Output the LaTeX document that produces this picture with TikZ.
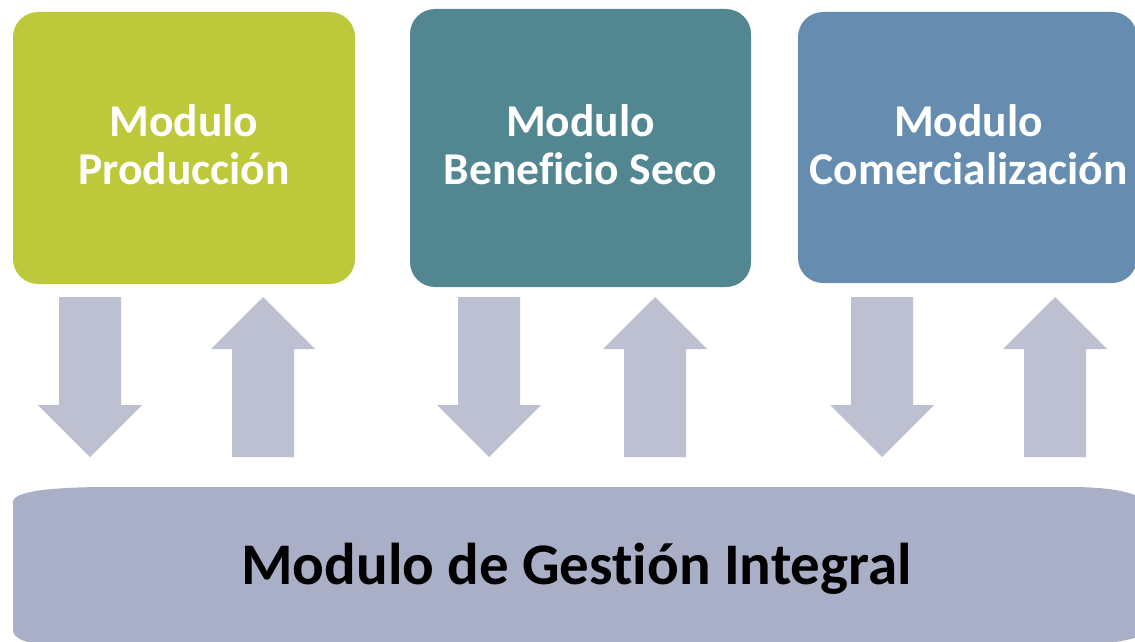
\documentclass[tikz,border=0pt]{standalone}
\usepackage{xcolor}
\usepackage{fontspec}
\setmainfont{Carlito}[Ligatures=NoCommon]
\usepackage{tikz}
\usetikzlibrary{positioning}
\definecolor{prodgreen}{RGB}{189,201,58}
\definecolor{benteal}{RGB}{82,135,145}
\definecolor{comblue}{RGB}{102,140,175}
\definecolor{flecha}{RGB}{188,192,208}
\definecolor{gestion}{RGB}{170,175,200}
\tikzset{
    modulo/.style={draw=none, rounded corners=25pt, inner sep=0pt, align=center,
    text=white, font=\fontsize{45.5}{48}\selectfont\bfseries},
    flechabox/.style={fill=flecha, draw=none}
}

\begin{document}
\begin{tikzpicture}[x=1pt, y=-1pt]
    \useasboundingbox (0,0) rectangle (1135,642);
    \clip (0,0) rectangle (1135,642);
    \node[modulo, fill=prodgreen, minimum width=342pt, minimum height=272pt]
    (prod) at (184,148) {};
    \node[modulo, fill=benteal, minimum width=341pt, minimum height=278pt]
    (benef) at (580.5,148) {};
    \node[modulo, fill=comblue, minimum width=339pt, minimum height=271pt]
    (comer) at (967.5,147.5) {};
    \node[modulo] (prodtxt) at (184,145) {Modulo\\Producción};
    \node[modulo] (beneftxt) at (580.5,145) {Modulo\\Beneficio Seco};
    \node[modulo] (comertxt) at (968.5,145) {Modulo\\Comercialización};
    \foreach \cx in {90,489,882}
      \fill[flechabox] (\cx-31,297) -- (\cx+31,297) -- (\cx+31,405) -- (\cx+52,405)
      -- (\cx,457) -- (\cx-52,405) -- (\cx-31,405) -- cycle;
    \foreach \cx in {263,655,1055}
      \fill[flechabox] (\cx,297) -- (\cx+52,349) -- (\cx+31,349) -- (\cx+31,457)
      -- (\cx-31,457) -- (\cx-31,349) -- (\cx-52,349) -- cycle;
    \fill[gestion] (13,630) -- (13,502) .. controls (13,490) and (60,487) .. (110,487)
    -- (1070,487) .. controls (1110,487) and (1140,492) .. (1150,505)
    -- (1150,630) .. controls (1140,640) and (1110,645) .. (1060,645)
    -- (60,645) .. controls (30,645) and (13,640) .. (13,630) -- cycle;
    \node[anchor=base, inner sep=0pt, font=\fontsize{59}{59}\selectfont\bfseries]
    (integral) at (576.5,584) {Modulo de Gestión Integral};
      \end{tikzpicture}
\end{document}
